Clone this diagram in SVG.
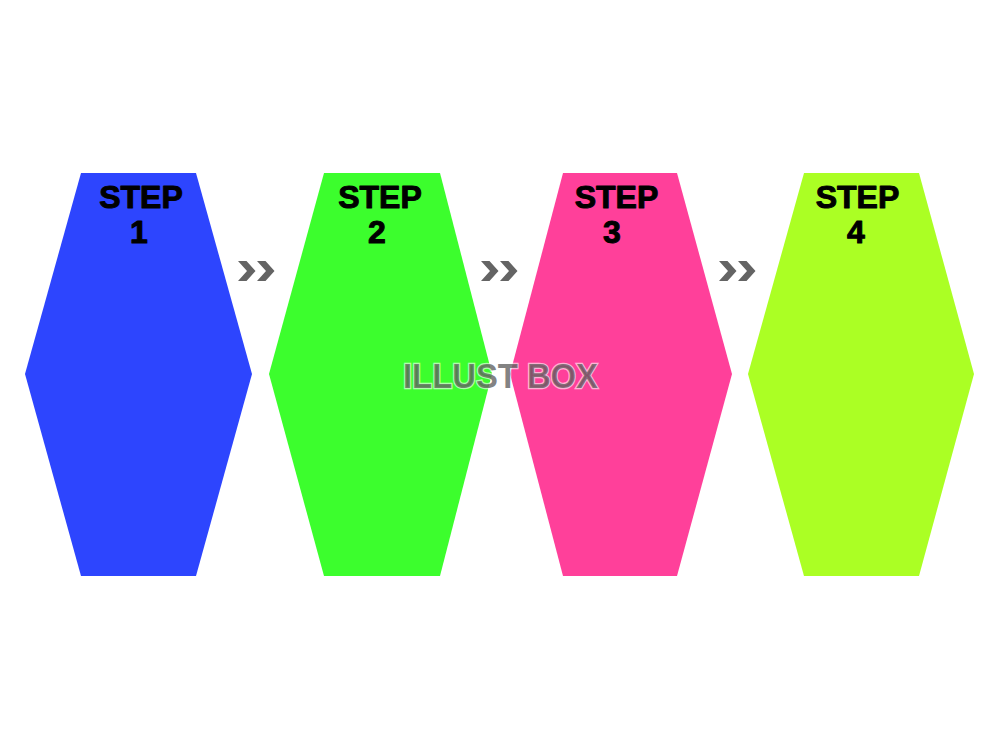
<svg xmlns="http://www.w3.org/2000/svg" width="1000" height="750" viewBox="0 0 1000 750">
<style>
.hex{stroke:none}
.lbl{font-family:"Liberation Sans",Arial,sans-serif;font-weight:bold;font-size:32px;fill:#000;stroke:#000;stroke-width:1;stroke-linejoin:round;text-anchor:middle}
.chev{fill:#646464}
.wm{font-family:"Liberation Sans",Arial,sans-serif;font-weight:bold;font-size:35px;fill:#5a5a5a;fill-opacity:0.75;stroke:#ffffff;stroke-opacity:0.6;stroke-width:2.5;paint-order:stroke}
</style>
<defs>
<path id="ch" d="M0,0 H8.5 L17.5,10 L8.5,20 H0 L9,10 Z"/>
</defs>
<rect width="1000" height="750" fill="#ffffff"/>
<g id="step1">
<polygon class="hex" fill="#2d45fe" points="81,173 196,173 252,374 196,576 81,576 25,374"/>
<text class="lbl" x="141" y="208">STEP</text>
<text class="lbl" x="139" y="243">1</text>
</g>
<g id="step2">
<polygon class="hex" fill="#3cfe2d" points="324,173 440,173 492,374 440,576 324,576 269,374"/>
<text class="lbl" x="380" y="208">STEP</text>
<text class="lbl" x="377" y="243">2</text>
</g>
<g id="step3">
<polygon class="hex" fill="#ff409a" points="563,173 677,173 732,374 677,576 563,576 510,374"/>
<text class="lbl" x="616.5" y="208">STEP</text>
<text class="lbl" x="612" y="243">3</text>
</g>
<g id="step4">
<polygon class="hex" fill="#abff24" points="804,173 919,173 974,374 919,576 804,576 748,374"/>
<text class="lbl" x="857.5" y="208">STEP</text>
<text class="lbl" x="856" y="243">4</text>
</g>
<g id="connectors">
<use href="#ch" class="chev" x="238" y="261"/>
<use href="#ch" class="chev" x="257" y="261"/>
<use href="#ch" class="chev" x="481" y="261"/>
<use href="#ch" class="chev" x="500" y="261"/>
<use href="#ch" class="chev" x="719" y="261"/>
<use href="#ch" class="chev" x="738" y="261"/>
</g>
<text class="wm" x="403" y="388" textLength="195" lengthAdjust="spacingAndGlyphs">ILLUST BOX</text>
</svg>
